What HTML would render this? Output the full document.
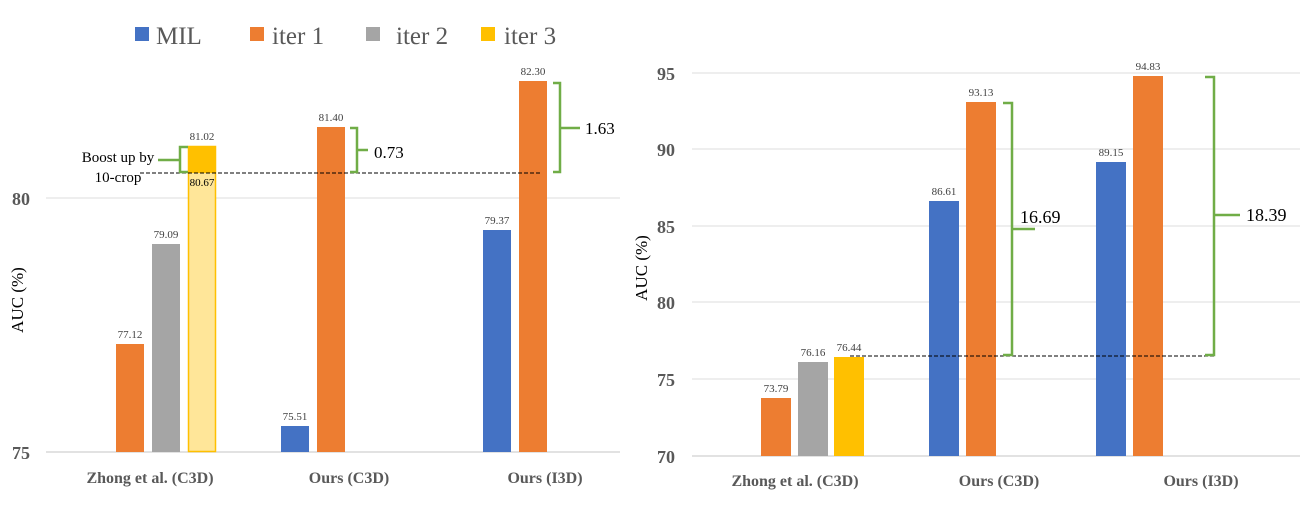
<!DOCTYPE html>
<html><head><meta charset="utf-8"><style>
html,body{margin:0;padding:0;background:#fff;}
svg, svg text{font-family:"Liberation Serif","DejaVu Serif",serif;}
</style></head><body>
<svg width="1307" height="520" viewBox="0 0 1307 520" xmlns="http://www.w3.org/2000/svg" font-family="'Liberation Serif', 'DejaVu Serif', serif">
<rect width="1307" height="520" fill="#fff"/>
<!-- Legend -->
<g font-size="25" fill="#595959" font-family="'Liberation Serif', serif">
<rect x="135" y="27" width="14" height="14" fill="#4472C4"/><text x="156" y="44">MIL</text>
<rect x="250" y="27" width="14" height="14" fill="#ED7D31"/><text x="272" y="44">iter 1</text>
<rect x="366" y="27" width="14" height="14" fill="#A5A5A5"/><text x="396" y="44">iter 2</text>
<rect x="481" y="27" width="14" height="14" fill="#FFC000"/><text x="504" y="44">iter 3</text>
</g>
<!-- LEFT CHART -->
<line x1="46" y1="198" x2="620" y2="198" stroke="#EEEEEE" stroke-width="2"/>
<line x1="46" y1="452" x2="620" y2="452" stroke="#D9D9D9" stroke-width="1.5"/>
<g font-size="18" font-weight="bold" fill="#595959" text-anchor="end" font-family="'Liberation Serif', serif">
<text x="30" y="205">80</text><text x="30" y="459">75</text>
</g>
<text transform="translate(23,300) rotate(-90)" font-size="17" fill="#000" text-anchor="middle" font-family="'Liberation Serif', serif">AUC (%)</text>
<rect x="116" y="344" width="28" height="108" fill="#ED7D31"/>
<rect x="152" y="244" width="28" height="208" fill="#A5A5A5"/>
<rect x="188.5" y="146.5" width="27" height="305" fill="#FFE699" stroke="#FFC000" stroke-width="1.5"/>
<rect x="188" y="146" width="28" height="27" fill="#FFC000"/>
<rect x="281" y="426" width="28" height="26" fill="#4472C4"/>
<rect x="317" y="127" width="28" height="325" fill="#ED7D31"/>
<rect x="483" y="230" width="28" height="222" fill="#4472C4"/>
<rect x="519" y="81" width="28" height="371" fill="#ED7D31"/>
<g font-size="11" fill="#404040" text-anchor="middle" font-family="'Liberation Serif', serif">
<text x="130" y="338">77.12</text><text x="166" y="238">79.09</text><text x="202" y="140">81.02</text>
<text x="202" y="186" fill="#000">80.67</text>
<text x="295" y="420">75.51</text><text x="331" y="121">81.40</text>
<text x="497" y="224">79.37</text><text x="533" y="75">82.30</text>
</g>
<line x1="140" y1="173" x2="540" y2="173" stroke="#000" stroke-width="1" stroke-dasharray="4,2"/>
<g fill="none" stroke="#70AD47" stroke-width="2.5">
<path d="M188 147 H180 V160 H158 M180 160 V172 H188"/>
<path d="M350 128 H357 V150 H368 M357 150 V172 H350"/>
<path d="M553 83 H560 V128 H580 M560 128 V172 H553"/>
</g>
<g font-family="'Liberation Serif', serif">
<text x="118" y="162" font-size="15" text-anchor="middle">Boost up by</text>
<text x="118" y="182" font-size="15" text-anchor="middle">10-crop</text>
<text x="374" y="158" font-size="17">0.73</text>
<text x="585" y="134" font-size="17">1.63</text>
</g>
<g font-size="16" font-weight="bold" fill="#595959" text-anchor="middle" font-family="'Liberation Serif', serif">
<text x="150" y="483">Zhong et al. (C3D)</text><text x="349" y="483">Ours (C3D)</text><text x="545" y="483">Ours (I3D)</text>
</g>
<!-- RIGHT CHART -->
<g stroke="#EEEEEE" stroke-width="2">
<line x1="692" y1="73" x2="1300" y2="73"/><line x1="692" y1="149" x2="1300" y2="149"/>
<line x1="692" y1="226" x2="1300" y2="226"/><line x1="692" y1="302" x2="1300" y2="302"/>
<line x1="692" y1="379" x2="1300" y2="379"/>
</g>
<line x1="692" y1="456" x2="1300" y2="456" stroke="#D9D9D9" stroke-width="1.5"/>
<g font-size="18" font-weight="bold" fill="#595959" text-anchor="end" font-family="'Liberation Serif', serif">
<text x="675" y="80">95</text><text x="675" y="156">90</text><text x="675" y="233">85</text>
<text x="675" y="309">80</text><text x="675" y="386">75</text><text x="675" y="463">70</text>
</g>
<text transform="translate(647,268) rotate(-90)" font-size="17" fill="#000" text-anchor="middle" font-family="'Liberation Serif', serif">AUC (%)</text>
<rect x="761" y="398" width="30" height="58" fill="#ED7D31"/>
<rect x="798" y="362" width="30" height="94" fill="#A5A5A5"/>
<rect x="834" y="357" width="30" height="99" fill="#FFC000"/>
<rect x="929" y="201" width="30" height="255" fill="#4472C4"/>
<rect x="966" y="102" width="30" height="354" fill="#ED7D31"/>
<rect x="1096" y="162" width="30" height="294" fill="#4472C4"/>
<rect x="1133" y="76" width="30" height="380" fill="#ED7D31"/>
<g font-size="11" fill="#404040" text-anchor="middle" font-family="'Liberation Serif', serif">
<text x="776" y="392">73.79</text><text x="813" y="356">76.16</text><text x="849" y="351">76.44</text>
<text x="944" y="195">86.61</text><text x="981" y="96">93.13</text>
<text x="1111" y="156">89.15</text><text x="1148" y="70">94.83</text>
</g>
<line x1="850" y1="356" x2="1215" y2="356" stroke="#000" stroke-width="1" stroke-dasharray="4,2"/>
<g fill="none" stroke="#70AD47" stroke-width="2.5">
<path d="M1003 103 H1012 V229 H1035 M1012 229 V355 H1003"/>
<path d="M1205 77 H1214 V215 H1240 M1214 215 V355 H1205"/>
</g>
<g font-family="'Liberation Serif', serif">
<text x="1020" y="223" font-size="18">16.69</text>
<text x="1246" y="221" font-size="18">18.39</text>
</g>
<g font-size="16" font-weight="bold" fill="#595959" text-anchor="middle" font-family="'Liberation Serif', serif">
<text x="795" y="486">Zhong et al. (C3D)</text><text x="999" y="486">Ours (C3D)</text><text x="1201" y="486">Ours (I3D)</text>
</g>
</svg>
</body></html>
